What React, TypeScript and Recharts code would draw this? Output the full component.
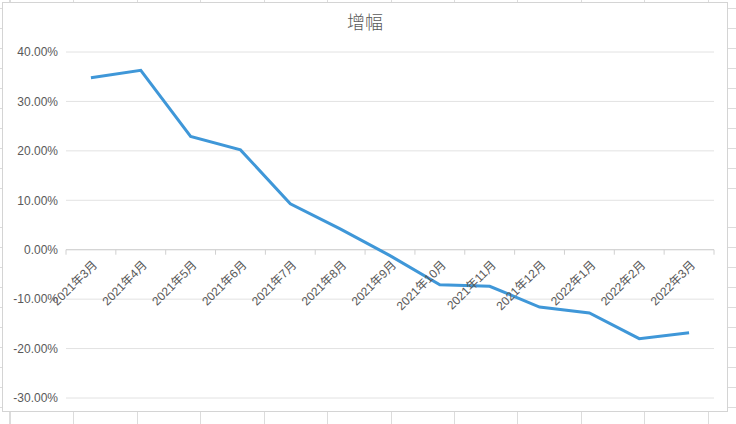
import React from 'react';
import { LineChart, Line, XAxis, YAxis, CartesianGrid, ReferenceLine } from 'recharts';

const months = [
  '2021年3月',
  '2021年4月',
  '2021年5月',
  '2021年6月',
  '2021年7月',
  '2021年8月',
  '2021年9月',
  '2021年10月',
  '2021年11月',
  '2021年12月',
  '2022年1月',
  '2022年2月',
  '2022年3月',
];

const growth = [0.348, 0.363, 0.229, 0.202, 0.093, 0.042, -0.012, -0.071, -0.074, -0.116, -0.128, -0.18, -0.168];

const yTicks = [-0.3, -0.2, -0.1, 0, 0.1, 0.2, 0.3, 0.4];

const CHART_W = 736;
const CHART_H = 424;
const X_AXIS_H = 1;
const MARGIN = { top: 52, right: 22, bottom: 26 - X_AXIS_H, left: 0 };
const Y_AXIS_W = 66;
const Y_MIN = -0.3;
const Y_MAX = 0.4;

const TEXT_COLOR = '#595959';
const GRID_COLOR = '#e2e2e2';
const FONT = '"Liberation Sans", "Noto Sans CJK SC", sans-serif';

const data = months.map((m, i) => ({ month: m, value: growth[i] }));

const plotH = CHART_H - MARGIN.top - MARGIN.bottom - X_AXIS_H;
const plotW = CHART_W - MARGIN.left - Y_AXIS_W - MARGIN.right;
// the category axis sits on the 0% line, not at the bottom of the plot
const zeroLift = (plotH * (0 - Y_MIN)) / (Y_MAX - Y_MIN);

const pct = (v: number) => `${(v * 100).toFixed(2)}%`;

const MonthTick = (props: any) => {
  const { x, y, payload, index } = props;
  const half = payload?.offset || plotW / months.length / 2;
  const y0 = y - zeroLift;
  const ax = x + 7;
  const ay = y0 + 16;
  return (
    <g>
      <line x1={x - half} x2={x - half} y1={y0} y2={y0 + 5} stroke="#d0d0d0" />
      {index === months.length - 1 ? (
        <line x1={x + half} x2={x + half} y1={y0} y2={y0 + 5} stroke="#d0d0d0" />
      ) : null}
      <text
        x={ax}
        y={ay}
        textAnchor="end"
        fill={TEXT_COLOR}
        fontSize={12}
        fontFamily={FONT}
        transform={`rotate(-45, ${ax}, ${ay})`}
      >
        {payload.value}
      </text>
    </g>
  );
};

const sheetBackground: React.CSSProperties = {
  position: 'absolute',
  left: 0,
  top: 0,
  width: CHART_W,
  height: CHART_H,
  background: '#fff',
  backgroundImage:
    'repeating-linear-gradient(to right, transparent 0px, transparent 9.5px, #dcdcdc 9.5px, #dcdcdc 10.5px, transparent 10.5px, transparent 63.5px),' +
    'repeating-linear-gradient(to bottom, transparent 0px, transparent 8.5px, #dcdcdc 8.5px, #dcdcdc 9.5px, transparent 9.5px, transparent 19.9px)',
  overflow: 'hidden',
};

export default function App() {
  return (
    <div style={{ position: 'absolute', left: 0, top: 0, width: CHART_W, height: CHART_H }}>
      <div style={sheetBackground} />
      <div
        style={{
          position: 'absolute',
          left: 2,
          top: 2,
          width: 726,
          height: 410,
          boxSizing: 'border-box',
          background: '#fff',
          border: '1px solid #d4d4d4',
        }}
      />
      <div
        style={{
          position: 'absolute',
          left: 2,
          top: 9,
          width: 726,
          textAlign: 'center',
          fontSize: 18,
          lineHeight: '24px',
          color: TEXT_COLOR,
          fontFamily: '"Noto Sans CJK SC", sans-serif',
          fontWeight: 300,
        }}
      >
        增幅
      </div>
      <div style={{ position: 'absolute', left: 0, top: 0 }}>
        <LineChart width={CHART_W} height={CHART_H} data={data} margin={MARGIN}>
          <CartesianGrid vertical={false} stroke={GRID_COLOR} />
          <XAxis
            dataKey="month"
            scale="band"
            interval={0}
            height={X_AXIS_H}
            axisLine={false}
            tickLine={false}
            tickSize={0}
            tickMargin={0}
            tick={<MonthTick />}
          />
          <YAxis
            width={Y_AXIS_W}
            domain={[Y_MIN, Y_MAX]}
            ticks={yTicks}
            tickFormatter={pct}
            axisLine={false}
            tickLine={false}
            tickSize={0}
            tickMargin={8}
            tick={{ fill: TEXT_COLOR, fontSize: 12, fontFamily: FONT }}
          />
          <ReferenceLine y={0} stroke="#d0d0d0" />
          <Line
            type="linear"
            dataKey="value"
            stroke="#3f97d8"
            strokeWidth={3}
            dot={false}
            activeDot={false}
            isAnimationActive={false}
          />
        </LineChart>
      </div>
    </div>
  );
}
